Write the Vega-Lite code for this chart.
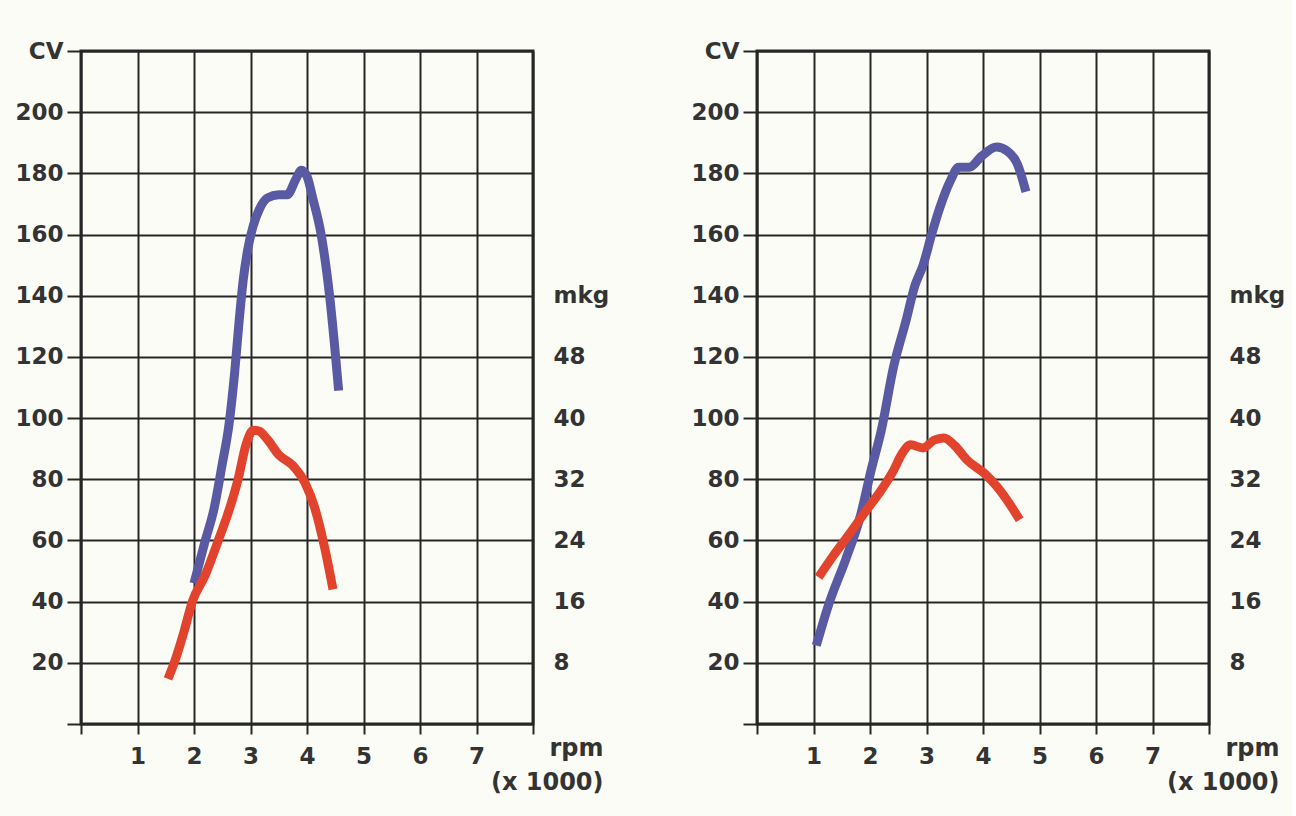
{
  "$schema": "https://vega.github.io/schema/vega-lite/v6.json",
  "description": "Dyno curves, power (CV) and torque (mkg) vs rpm, two engines",
  "background": "#fcfcf6",
  "padding": {"left": 13, "top": 38, "right": 5, "bottom": 20},
  "spacing": 78,
  "datasets": {
    "left": [
      {"series": "CV", "rpm": 2.0, "value": 46},
      {"series": "CV", "rpm": 2.2, "value": 60},
      {"series": "CV", "rpm": 2.35, "value": 70},
      {"series": "CV", "rpm": 2.5, "value": 85},
      {"series": "CV", "rpm": 2.62, "value": 98},
      {"series": "CV", "rpm": 2.72, "value": 115},
      {"series": "CV", "rpm": 2.8, "value": 132},
      {"series": "CV", "rpm": 2.87, "value": 145},
      {"series": "CV", "rpm": 2.95, "value": 155},
      {"series": "CV", "rpm": 3.05, "value": 163},
      {"series": "CV", "rpm": 3.15, "value": 168},
      {"series": "CV", "rpm": 3.3, "value": 172},
      {"series": "CV", "rpm": 3.5, "value": 173},
      {"series": "CV", "rpm": 3.65, "value": 173},
      {"series": "CV", "rpm": 3.8, "value": 178},
      {"series": "CV", "rpm": 3.9, "value": 181},
      {"series": "CV", "rpm": 4.0, "value": 179},
      {"series": "CV", "rpm": 4.1, "value": 172},
      {"series": "CV", "rpm": 4.25, "value": 160},
      {"series": "CV", "rpm": 4.4, "value": 140},
      {"series": "CV", "rpm": 4.56, "value": 109},
      {"series": "mkg", "rpm": 1.54, "value": 5.9},
      {"series": "mkg", "rpm": 1.65, "value": 8},
      {"series": "mkg", "rpm": 1.82, "value": 12},
      {"series": "mkg", "rpm": 1.97, "value": 16},
      {"series": "mkg", "rpm": 2.2, "value": 19.5},
      {"series": "mkg", "rpm": 2.43, "value": 24},
      {"series": "mkg", "rpm": 2.6, "value": 27.5},
      {"series": "mkg", "rpm": 2.78, "value": 32},
      {"series": "mkg", "rpm": 2.92, "value": 36.5},
      {"series": "mkg", "rpm": 3.05, "value": 38.4},
      {"series": "mkg", "rpm": 3.15, "value": 38.3},
      {"series": "mkg", "rpm": 3.3, "value": 37.2},
      {"series": "mkg", "rpm": 3.5, "value": 35.2},
      {"series": "mkg", "rpm": 3.75, "value": 33.8},
      {"series": "mkg", "rpm": 3.96, "value": 31.6},
      {"series": "mkg", "rpm": 4.14, "value": 28.2},
      {"series": "mkg", "rpm": 4.32, "value": 22.8},
      {"series": "mkg", "rpm": 4.46, "value": 17.6}
    ],
    "right": [
      {"series": "CV", "rpm": 1.05, "value": 25.7},
      {"series": "CV", "rpm": 1.28, "value": 39.7},
      {"series": "CV", "rpm": 1.57, "value": 53.8},
      {"series": "CV", "rpm": 1.83, "value": 68},
      {"series": "CV", "rpm": 2.02, "value": 83},
      {"series": "CV", "rpm": 2.2, "value": 96},
      {"series": "CV", "rpm": 2.42, "value": 117},
      {"series": "CV", "rpm": 2.64, "value": 132},
      {"series": "CV", "rpm": 2.79, "value": 143},
      {"series": "CV", "rpm": 2.94, "value": 150},
      {"series": "CV", "rpm": 3.09, "value": 160},
      {"series": "CV", "rpm": 3.24, "value": 169},
      {"series": "CV", "rpm": 3.42, "value": 177.5},
      {"series": "CV", "rpm": 3.57, "value": 182},
      {"series": "CV", "rpm": 3.76, "value": 182},
      {"series": "CV", "rpm": 3.98, "value": 185.7},
      {"series": "CV", "rpm": 4.24, "value": 188.6},
      {"series": "CV", "rpm": 4.43, "value": 187.3},
      {"series": "CV", "rpm": 4.61, "value": 183},
      {"series": "CV", "rpm": 4.76, "value": 174},
      {"series": "mkg", "rpm": 1.09, "value": 19.2},
      {"series": "mkg", "rpm": 1.35, "value": 22},
      {"series": "mkg", "rpm": 1.65, "value": 25},
      {"series": "mkg", "rpm": 1.94, "value": 28},
      {"series": "mkg", "rpm": 2.2, "value": 30.6},
      {"series": "mkg", "rpm": 2.42, "value": 33.2},
      {"series": "mkg", "rpm": 2.57, "value": 35.4},
      {"series": "mkg", "rpm": 2.72, "value": 36.5},
      {"series": "mkg", "rpm": 2.94, "value": 36.1},
      {"series": "mkg", "rpm": 3.13, "value": 37.1},
      {"series": "mkg", "rpm": 3.31, "value": 37.4},
      {"series": "mkg", "rpm": 3.5, "value": 36.4},
      {"series": "mkg", "rpm": 3.72, "value": 34.5},
      {"series": "mkg", "rpm": 4.02, "value": 32.8},
      {"series": "mkg", "rpm": 4.24, "value": 31.1},
      {"series": "mkg", "rpm": 4.46, "value": 28.9},
      {"series": "mkg", "rpm": 4.65, "value": 26.7}
    ]
  },
  "hconcat": [
    {
      "width": 452,
      "height": 673,
      "data": {"name": "left"},
      "encoding": {
        "x": {
          "field": "rpm", "type": "quantitative",
          "scale": {"domain": [0, 8], "nice": false},
          "axis": {
            "values": [0, 1, 2, 3, 4, 5, 6, 7, 8],
            "labelExpr": "datum.value >= 1 && datum.value <= 7 ? datum.label : ''",
            "title": ["rpm", "(x 1000)"],
            "titleAnchor": "end", "titleAlign": "right", "titleX": 522, "titleY": 12,
            "titleBaseline": "top", "titleLineHeight": 34
          }
        }
      },
      "layer": [
        {
          "transform": [{"filter": "datum.series == 'CV'"}],
          "mark": {"type": "line", "color": "#5a5aa4", "strokeWidth": 9, "strokeJoin": "round", "interpolate": "monotone"},
          "encoding": {
            "y": {
              "field": "value", "type": "quantitative",
              "scale": {"domain": [0, 220], "nice": false},
              "axis": {
                "values": [0, 20, 40, 60, 80, 100, 120, 140, 160, 180, 200, 220],
                "labelExpr": "datum.value == 220 ? 'CV' : datum.value == 0 ? '' : datum.label",
                "title": null, "tickSize": 14, "labelPadding": 4
              }
            }
          }
        },
        {
          "transform": [{"filter": "datum.series == 'mkg'"}],
          "mark": {"type": "line", "color": "#e2432d", "strokeWidth": 9, "strokeJoin": "round", "interpolate": "monotone"},
          "encoding": {
            "y": {
              "field": "value", "type": "quantitative",
              "scale": {"domain": [0, 88], "nice": false},
              "axis": {
                "orient": "right",
                "values": [8, 16, 24, 32, 40, 48, 56],
                "labelExpr": "datum.value == 56 ? 'mkg' : datum.label",
                "title": null, "grid": false, "ticks": false, "labelPadding": 20
              }
            }
          }
        }
      ],
      "resolve": {"scale": {"y": "independent"}}
    },
    {
      "width": 452,
      "height": 673,
      "data": {"name": "right"},
      "encoding": {
        "x": {
          "field": "rpm", "type": "quantitative",
          "scale": {"domain": [0, 8], "nice": false},
          "axis": {
            "values": [0, 1, 2, 3, 4, 5, 6, 7, 8],
            "labelExpr": "datum.value >= 1 && datum.value <= 7 ? datum.label : ''",
            "title": ["rpm", "(x 1000)"],
            "titleAnchor": "end", "titleAlign": "right", "titleX": 522, "titleY": 12,
            "titleBaseline": "top", "titleLineHeight": 34
          }
        }
      },
      "layer": [
        {
          "transform": [{"filter": "datum.series == 'CV'"}],
          "mark": {"type": "line", "color": "#5a5aa4", "strokeWidth": 9, "strokeJoin": "round", "interpolate": "monotone"},
          "encoding": {
            "y": {
              "field": "value", "type": "quantitative",
              "scale": {"domain": [0, 220], "nice": false},
              "axis": {
                "values": [0, 20, 40, 60, 80, 100, 120, 140, 160, 180, 200, 220],
                "labelExpr": "datum.value == 220 ? 'CV' : datum.value == 0 ? '' : datum.label",
                "title": null, "tickSize": 14, "labelPadding": 4
              }
            }
          }
        },
        {
          "transform": [{"filter": "datum.series == 'mkg'"}],
          "mark": {"type": "line", "color": "#e2432d", "strokeWidth": 9, "strokeJoin": "round", "interpolate": "monotone"},
          "encoding": {
            "y": {
              "field": "value", "type": "quantitative",
              "scale": {"domain": [0, 88], "nice": false},
              "axis": {
                "orient": "right",
                "values": [8, 16, 24, 32, 40, 48, 56],
                "labelExpr": "datum.value == 56 ? 'mkg' : datum.label",
                "title": null, "grid": false, "ticks": false, "labelPadding": 20
              }
            }
          }
        }
      ],
      "resolve": {"scale": {"y": "independent"}}
    }
  ],
  "config": {
    "view": {"stroke": "#262626", "strokeWidth": 3},
    "axis": {
      "labelFont": "DejaVu Sans", "labelFontWeight": "bold", "labelFontSize": 23, "labelColor": "#333333",
      "titleFont": "DejaVu Sans", "titleFontWeight": "bold", "titleFontSize": 24, "titleColor": "#333333",
      "grid": true, "gridColor": "#262626", "gridWidth": 2, "gridOpacity": 1,
      "domain": false, "tickColor": "#262626", "tickWidth": 2, "tickSize": 10, "labelPadding": 11,
      "labelFlush": false, "labelOverlap": false
    }
  }
}
